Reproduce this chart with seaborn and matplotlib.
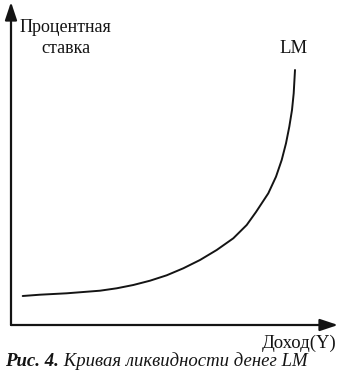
import matplotlib
matplotlib.use("Agg")
import matplotlib.pyplot as plt
import seaborn as sns
import pandas as pd

# LM curve (income Y, interest rate r), arbitrary units
income = [11.7, 29, 55.7, 89, 105.7, 122.3, 139, 155.7, 172.3, 189, 205.7, 222.3,
          235.7, 245, 257.3, 265, 270.7, 275, 278.3, 281, 282.7, 284]
rate = [29, 30.3, 31.7, 34.3, 36.7, 40, 44.3, 49.7, 56.7, 65, 75, 86.7,
        100, 113, 131.7, 148.3, 165, 181.7, 198.3, 215, 231.7, 255]

y_label_1 = "Процентная"
y_label_2 = "ставка"
x_label = "Доход(Y)"
curve_label = "LM"
caption_bold = "Рис. 4."
caption_rest = " Кривая ликвидности денег LM"

df = pd.DataFrame({"Y": income, "r": rate})

sns.set_theme(style="white")
plt.rcParams["font.family"] = ["Liberation Serif", "DejaVu Serif"]

fig = plt.figure(figsize=(3.41, 3.74), dpi=100)
ax = fig.add_axes([0, 0, 1, 1])
ax.set_xlim(-11, 330)
ax.set_ylim(-49, 325)
ax.set_axis_off()

ink = "#141414"

sns.lineplot(data=df, x="Y", y="r", sort=False, color=ink, linewidth=1.4, ax=ax,
             solid_joinstyle="round", solid_capstyle="round")

# axes with arrows
ax.annotate("", xy=(0, 323), xytext=(0, 0),
            arrowprops=dict(arrowstyle="-|>,head_length=0.9,head_width=0.3",
                            color=ink, lw=1.6, shrinkA=0, shrinkB=0))
ax.annotate("", xy=(327, 0), xytext=(0, 0),
            arrowprops=dict(arrowstyle="-|>,head_length=0.9,head_width=0.3",
                            color=ink, lw=1.6, shrinkA=0, shrinkB=0))

ax.text(9, 298, y_label_1, fontsize=13, color=ink, ha="left", va="center")
ax.text(55, 277, y_label_2, fontsize=13, color=ink, ha="center", va="center")
ax.text(283, 277, curve_label, fontsize=13.5, color=ink, ha="center", va="center")
ax.text(325, -18, x_label, fontsize=13.5, color=ink, ha="right", va="center")

t1 = ax.text(-6, -45, caption_bold, fontsize=13.5, color=ink, ha="left",
             va="bottom", fontweight="bold", fontstyle="italic")
ax.annotate(caption_rest, xy=(1, 0), xycoords=t1, ha="left", va="bottom",
            fontsize=13.5, color=ink, fontstyle="italic")

fig.savefig("out.png", dpi=100, facecolor="white")
